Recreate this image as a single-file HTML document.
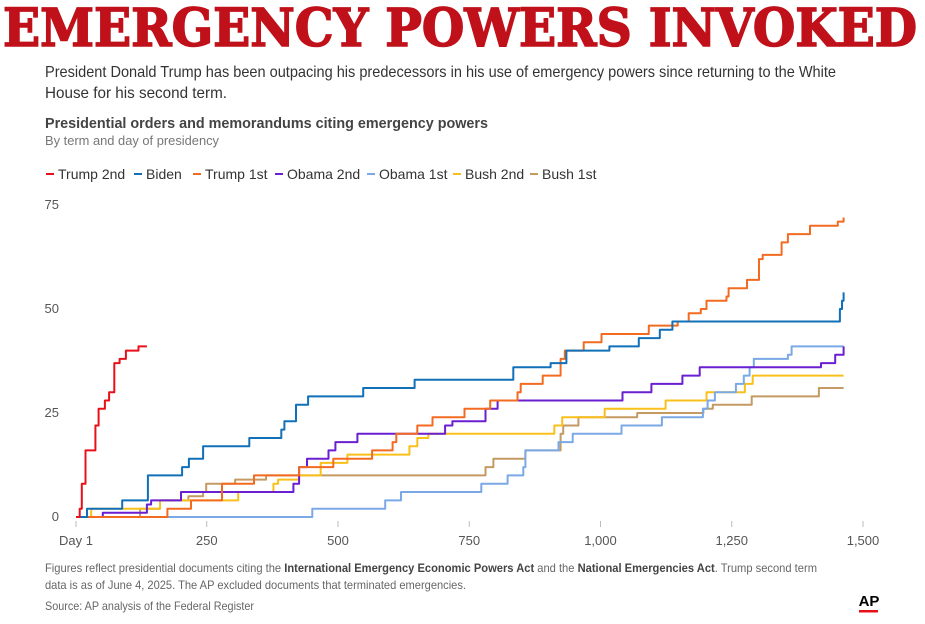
<!DOCTYPE html>
<html><head><meta charset="utf-8"><style>
html,body{margin:0;padding:0;background:#fff;}
svg{display:block;font-family:"Liberation Sans Narrow","Liberation Sans",sans-serif;}
</style></head><body>
<svg id="chart" width="925" height="624" viewBox="0 0 925 624">
<text x="3" y="46" font-family="DejaVu Serif, Liberation Serif, serif" font-weight="bold" font-size="52" fill="#c0101a" stroke="#c0101a" stroke-width="1.6" textLength="914" lengthAdjust="spacingAndGlyphs">EMERGENCY POWERS INVOKED</text>
<text x="45" y="77" font-size="16" fill="#333" textLength="791" lengthAdjust="spacingAndGlyphs">President Donald Trump has been outpacing his predecessors in his use of emergency powers since returning to the White</text>
<text x="45" y="98" font-size="16" fill="#333" textLength="182" lengthAdjust="spacingAndGlyphs">House for his second term.</text>
<text x="45" y="128" font-size="15" font-weight="bold" fill="#444" textLength="443" lengthAdjust="spacingAndGlyphs">Presidential orders and memorandums citing emergency powers</text>
<text x="45" y="145" font-size="13" fill="#777" textLength="174" lengthAdjust="spacingAndGlyphs">By term and day of presidency</text>
<g id="legend"></g>
<g id="axes"></g>
<g id="lines"></g>
<text x="45" y="572" font-size="12" fill="#666" textLength="772" lengthAdjust="spacingAndGlyphs">Figures reflect presidential documents citing the <tspan font-weight="bold" fill="#444">International Emergency Economic Powers Act</tspan> and the <tspan font-weight="bold" fill="#444">National Emergencies Act</tspan>. Trump second term</text>
<text x="45" y="589" font-size="12" fill="#666" textLength="421" lengthAdjust="spacingAndGlyphs">data is as of June 4, 2025. The AP excluded documents that terminated emergencies.</text>
<text x="45" y="610" font-size="12" fill="#666" textLength="209" lengthAdjust="spacingAndGlyphs">Source: AP analysis of the Federal Register</text>
<text x="869" y="606" font-size="15" font-weight="bold" fill="#000" text-anchor="middle">AP</text>
<rect x="859" y="610" width="19" height="2.5" fill="#e8111a"/>
</svg>
<script>
const seriesNames = ["Trump 2nd","Biden","Trump 1st","Obama 2nd","Obama 1st","Bush 2nd","Bush 1st"];
const seriesColors = ["#e8111a","#1170b8","#f26b21","#6a1fd1","#7aa9e6","#f9c01b","#c49a62"];
const xTicks = [1,250,500,750,1000,1250,1500];
const xTickLabels = ["Day 1","250","500","750","1,000","1,250","1,500"];
const yTicks = [0,25,50,75];
const trump2Days = [1,8,12,19,38,44,56,64,74,84,96,120,136];
const trump2Vals = [0,2,8,16,22,26,28,30,37,38,40,41,41];
const bidenDays = [1,22,89,138,203,216,243,331,392,398,420,443,548,646,834,905,935,1017,1073,1113,1137,1456,1460,1463];
const bidenVals = [0,2,4,10,12,14,17,19,21,23,27,29,31,33,36,37,40,41,43,45,47,50,52,54];
const trump1Days = [1,175,220,279,340,426,491,565,604,611,651,680,741,790,842,848,890,924,932,968,1002,1092,1147,1168,1191,1202,1240,1244,1279,1302,1309,1345,1357,1399,1452,1463];
const trump1Vals = [0,2,4,8,10,12,14,16,18,20,22,24,26,28,30,32,34,38,40,42,44,46,47,49,50,52,53,55,57,62,63,66,68,70,71,72];
const obama2Days = [1,52,136,144,201,415,426,441,482,495,537,704,718,781,804,1042,1097,1156,1189,1420,1447,1463];
const obama2Vals = [0,1,3,4,6,8,12,14,16,18,20,22,23,26,28,30,32,34,36,37,39,41];
const obama1Days = [1,451,590,620,773,823,853,857,920,947,1040,1117,1195,1204,1218,1258,1273,1284,1292,1357,1364,1463];
const obama1Vals = [0,2,4,6,8,10,12,16,18,20,22,24,26,28,30,32,34,36,38,39,41,41];
const bush2Days = [1,30,161,310,377,386,426,467,518,636,651,672,912,927,1008,1124,1202,1275,1290,1463];
const bush2Vals = [0,2,4,6,8,9,10,13,15,17,19,20,22,24,26,28,30,32,34,34];
const bush1Days = [1,123,161,215,243,249,304,363,781,796,857,924,929,958,1070,1196,1214,1288,1416,1463];
const bush1Vals = [0,2,4,5,6,8,9,10,12,14,16,20,22,24,25,26,27,29,31,31];
const allDays = [trump2Days,bidenDays,trump1Days,obama2Days,obama1Days,bush2Days,bush1Days];
const allVals = [trump2Vals,bidenVals,trump1Vals,obama2Vals,obama1Vals,bush2Vals,bush1Vals];

const NS = "http://www.w3.org/2000/svg";
const X0 = 76, X1 = 863, Y0 = 517, Y75 = 205;
function xScale(d){ return X0 + (d - 1) * (X1 - X0) / 1499; }
function yScale(v){ return Y0 - v * (Y0 - Y75) / 75; }
function mk(tag, attrs, parent){ const e = document.createElementNS(NS, tag); for (const k in attrs) e.setAttribute(k, attrs[k]); parent.appendChild(e); return e; }

const axes = document.getElementById('axes');
yTicks.forEach(function(v){
  const t = mk('text', {x: 59, y: yScale(v) + 4, 'font-size': 13, fill: '#555', 'text-anchor': 'end'}, axes);
  t.textContent = String(v);
  
  
});
xTicks.forEach(function(d, i){
  const l = mk('line', {x1: xScale(d), x2: xScale(d), y1: 521, y2: 527, stroke: '#bbb', 'stroke-width': 1}, axes);
  
  
  const t = mk('text', {x: xScale(d), y: 545, 'font-size': 13, fill: '#555', 'text-anchor': 'middle'}, axes);
  t.textContent = xTickLabels[i];
  
  
});

const lines = document.getElementById('lines');
for (let s = allDays.length - 1; s >= 0; s--) {
  const days = allDays[s], vals = allVals[s];
  let d = 'M' + xScale(days[0]).toFixed(1) + ',' + yScale(vals[0]).toFixed(1);
  for (let i = 1; i < days.length; i++) {
    d += 'H' + xScale(days[i]).toFixed(1) + 'V' + yScale(vals[i]).toFixed(1);
  }
  const p = mk('path', {d: d, fill: 'none', stroke: seriesColors[s], 'stroke-width': 2, 'stroke-linejoin': 'round'}, lines);
  
  
}

const legend = document.getElementById('legend');
const legendX = [46, 134, 193, 275, 367, 453, 530];
seriesNames.forEach(function(n, i){
  const g = mk('g', {}, legend);
  
  
  mk('rect', {x: legendX[i], y: 173, width: 8, height: 2, fill: seriesColors[i]}, g);
  const t = mk('text', {x: legendX[i] + 12, y: 179, 'font-size': 14, fill: '#333'}, g);
  t.textContent = n;
});
</script>
</body></html>
